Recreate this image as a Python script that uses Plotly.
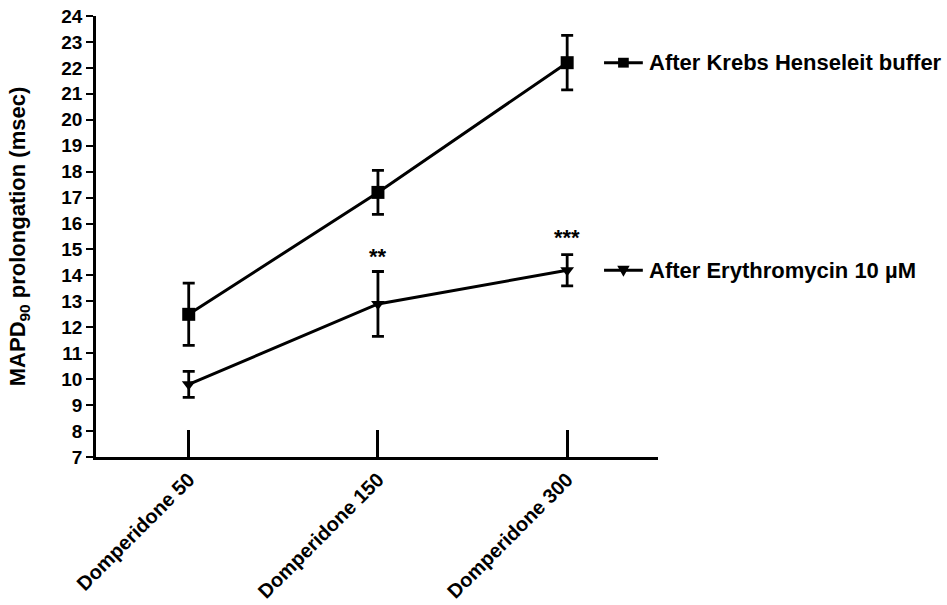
import plotly.graph_objects as go

categories = ["Domperidone 50", "Domperidone 150", "Domperidone 300"]
krebs_mean = [12.5, 17.2, 22.2]
krebs_err = [1.2, 0.85, 1.05]
ery_mean = [9.8, 12.9, 14.2]
ery_err = [0.5, 1.25, 0.6]
sig_labels = ["", "**", "***"]
sig_y = [None, 14.72, 15.45]
y_ticks = list(range(7, 25))

krebs_name = "After Krebs Henseleit buffer"
ery_name = "After Erythromycin 10 µM"

xi = list(range(len(categories)))
FONT = "Liberation Sans, Arial, sans-serif"

fig = go.Figure()
fig.add_trace(go.Scatter(
    x=xi, y=krebs_mean, mode="lines+markers", name=krebs_name,
    line=dict(color="black", width=3),
    marker=dict(symbol="square", size=13, color="black"),
    error_y=dict(type="data", array=krebs_err, color="black", thickness=2.8, width=6),
    cliponaxis=False,
))
fig.add_trace(go.Scatter(
    x=xi, y=ery_mean, mode="lines+markers", name=ery_name,
    line=dict(color="black", width=3),
    marker=dict(symbol="triangle-down", size=12, color="black"),
    error_y=dict(type="data", array=ery_err, color="black", thickness=2.8, width=6),
    cliponaxis=False,
))

for i, (lab, yv) in enumerate(zip(sig_labels, sig_y)):
    if lab:
        fig.add_annotation(x=i, y=yv, text="<b>%s</b>" % lab, showarrow=False,
                           xanchor="center", yanchor="middle",
                           font=dict(family=FONT, size=22, color="black"))

# Legend-like labels at the right (GraphPad style)
legend_items = [(krebs_name, krebs_mean[-1], "square"), (ery_name, ery_mean[-1], "tri")]
x0p, x1p = 0.904, 0.973
for name, yv, sym in legend_items:
    fig.add_shape(type="line", xref="paper", yref="y", x0=x0p, x1=x1p, y0=yv, y1=yv,
                  line=dict(color="black", width=3))
    xm = (x0p + x1p) / 2
    if sym == "square":
        fig.add_shape(type="rect", xref="paper", yref="y",
                      x0=xm - 0.0095, x1=xm + 0.0095, y0=yv - 0.19, y1=yv + 0.19,
                      fillcolor="black", line=dict(color="black", width=0))
    else:
        fig.add_shape(type="path", xref="paper", yref="y",
                      path="M %f %f L %f %f L %f %f Z" % (xm - 0.011, yv + 0.17, xm + 0.011, yv + 0.17, xm, yv - 0.25),
                      fillcolor="black", line=dict(color="black", width=0))
    fig.add_annotation(x=0.98, xref="paper", y=yv, yref="y", text="<b>%s</b>" % name,
                       showarrow=False, xanchor="left", yanchor="middle",
                       font=dict(family=FONT, size=22, color="black"))

fig.update_layout(
    width=947, height=605,
    margin=dict(l=96, r=289, t=16, b=148),
    paper_bgcolor="white", plot_bgcolor="white",
    showlegend=False,
    font=dict(family=FONT, color="black"),
    xaxis=dict(
        range=[-0.49, 2.48], tickmode="array", tickvals=xi,
        ticktext=["<b>%s</b>" % c for c in categories],
        tickangle=-45, ticks="inside", ticklen=27, tickwidth=3, tickcolor="black",
        showline=True, linecolor="black", linewidth=3, showgrid=False, zeroline=False,
        tickfont=dict(family=FONT, size=20, color="black"), automargin=False,
    ),
    yaxis=dict(
        range=[7, 24], tickmode="array", tickvals=y_ticks,
        ticktext=["<b>%d</b>" % t for t in y_ticks],
        ticks="outside", ticklen=7, tickwidth=2, tickcolor="black",
        showline=True, linecolor="black", linewidth=2.5, showgrid=False, zeroline=False,
        tickfont=dict(family=FONT, size=19, color="black"), automargin=False,
        title=dict(text="<b>MAPD<sub>90</sub> prolongation (msec)</b>", standoff=30,
                   font=dict(family=FONT, size=22, color="black")),
    ),
)

fig.write_html("out.html")
